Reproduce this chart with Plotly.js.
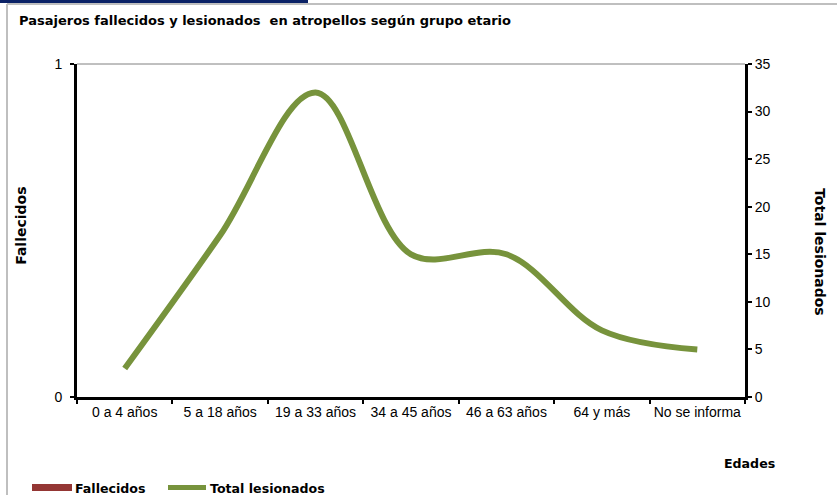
<!DOCTYPE html>
<html>
<head>
<meta charset="utf-8">
<script src="https://cdn.plot.ly/plotly-3.0.1.min.js"></script>
<style>
html,body{margin:0;padding:0;background:#fff;}
#chart{width:837px;height:495px;}
</style>
</head>
<body>
<div id="chart"></div>
<script>
const categories = ["0 a 4 años", "5 a 18 años", "19 a 33 años", "34 a 45 años", "46 a 63 años", "64 y más", "No se informa"];
const fallecidos = [0, 0, 0, 0, 0, 0, 0];
const totalLesionados = [3, 17, 32, 15, 15, 7, 5];

const seriesNames = ["Fallecidos", "Total lesionados"];
const barColor = "#943634";
const lineColor = "#77933C";
const titleFont = {family: "DejaVu Sans, Verdana, sans-serif", size: 13, color: "#000"};
const axTitleFont = {family: "DejaVu Sans, Verdana, sans-serif", size: 14, color: "#000"};
const legFont = {family: "DejaVu Sans, Verdana, sans-serif", size: 12.6, color: "#000"};
const tickFont = {family: "Liberation Sans, Arial, sans-serif", size: 14, color: "#000"};
const numFont = {family: "Liberation Sans, Arial, sans-serif", size: 14, color: "#000"};

const traces = [
  {
    type: "bar", name: seriesNames[0], x: categories, y: fallecidos,
    marker: {color: barColor}, yaxis: "y", showlegend: false, hoverinfo: "x+y"
  },
  {
    type: "scatter", mode: "lines", name: seriesNames[1], x: categories, y: totalLesionados,
    line: {color: lineColor, width: 6, shape: "spline", smoothing: 1}, yaxis: "y2", showlegend: false
  }
];

const layout = {
  width: 837, height: 495,
  margin: {l: 77, r: 92, t: 64, b: 98},
  paper_bgcolor: "#fff", plot_bgcolor: "#fff",
  showlegend: false,
  xaxis: {
    type: "category", tickson: "boundaries", ticks: "outside", ticklen: 4, tickwidth: 2, tickcolor: "#000",
    showline: true, linecolor: "#000", linewidth: 3, showgrid: false, zeroline: false,
    tickfont: tickFont, tickangle: 0, fixedrange: true
  },
  yaxis: {
    range: [0, 1], tickvals: [0, 1], ticktext: ["0", "1"], ticks: "outside", ticklen: 4, tickwidth: 2, tickcolor: "#000",
    showline: true, linecolor: "#000", linewidth: 3, showgrid: false, zeroline: false,
    tickfont: numFont, ticklabelstandoff: 5
  },
  yaxis2: {
    range: [0, 35], dtick: 5, tick0: 0, overlaying: "y", side: "right",
    ticks: "outside", ticklen: 4, tickwidth: 2, tickcolor: "#000",
    showline: true, linecolor: "#000", linewidth: 3, showgrid: false, zeroline: false,
    tickfont: numFont
  },
  shapes: [
    {type: "rect", xref: "paper", yref: "paper", x0: -77/668, x1: 231/668, y0: 1 + 61/333, y1: 1 + 64/333, line: {width: 0}, fillcolor: "#0b2266", layer: "below"},
    {type: "line", xref: "paper", yref: "paper", x0: -70/668, x1: 760/668, y0: 1 + 60/333, y1: 1 + 60/333, line: {color: "#bfbfbf", width: 2}},
    {type: "line", xref: "paper", yref: "paper", x0: -70/668, x1: -70/668, y0: 1 + 60/333, y1: -98/333, line: {color: "#bfbfbf", width: 2}},
    {type: "line", xref: "paper", yref: "paper", x0: 0, x1: 1, y0: 1, y1: 1, line: {color: "#808080", width: 1}},
    {type: "rect", xref: "paper", yref: "paper", x0: -45/668, x1: -5/668, y0: -87/333, y1: -94/333, line: {width: 0}, fillcolor: barColor},
    {type: "line", xref: "paper", yref: "paper", x0: 91/668, x1: 129/668, y0: -90.5/333, y1: -90.5/333, line: {color: lineColor, width: 5}}
  ],
  annotations: [
    {text: "<b>Pasajeros fallecidos y lesionados  en atropellos según grupo etario</b>", xref: "paper", yref: "paper",
     x: -60/668, y: 1 + 44/333, xanchor: "left", yanchor: "middle", showarrow: false, font: titleFont},
    {text: "<b>Fallecidos</b>", xref: "paper", yref: "paper", x: -56/668, y: 0.514, textangle: -90,
     xanchor: "center", yanchor: "middle", showarrow: false, font: axTitleFont},
    {text: "<b>Total lesionados</b>", xref: "paper", yref: "paper", x: 1 + 75/668, y: 0.435, textangle: 90,
     xanchor: "center", yanchor: "middle", showarrow: false, font: axTitleFont},
    {text: "<b>Edades</b>", xref: "paper", yref: "paper", x: 1 + 32/668, y: -66/333,
     xanchor: "right", yanchor: "middle", showarrow: false, font: legFont},
    {text: "<b>" + seriesNames[0] + "</b>", xref: "paper", yref: "paper", x: -4/668, y: -91/333,
     xanchor: "left", yanchor: "middle", showarrow: false, font: legFont},
    {text: "<b>" + seriesNames[1] + "</b>", xref: "paper", yref: "paper", x: 131/668, y: -91/333,
     xanchor: "left", yanchor: "middle", showarrow: false, font: legFont}
  ]
};

Plotly.newPlot("chart", traces, layout, {displayModeBar: false, staticPlot: true});
</script>
</body>
</html>
